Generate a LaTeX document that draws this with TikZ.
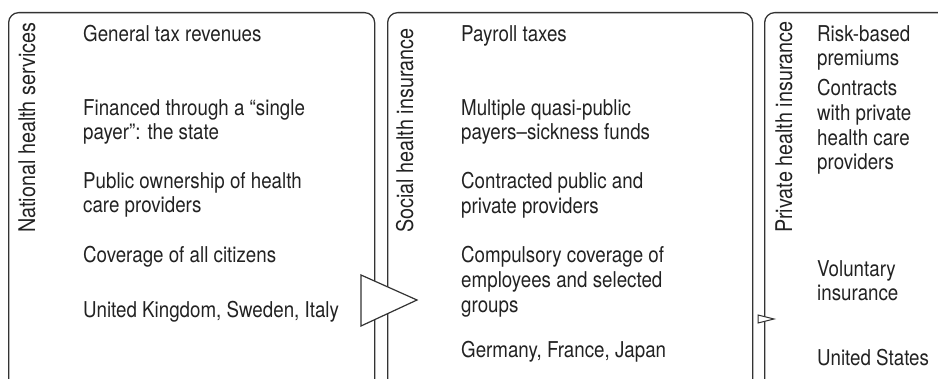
\documentclass[tikz,border=0pt]{standalone}
\usepackage{fontspec}
\setmainfont{TeX Gyre Heros}[FakeStretch=0.86]
\definecolor{ink}{HTML}{222222}
\definecolor{edge}{HTML}{333333}
\tikzset{
  panel/.style={draw=edge, line width=1.3pt, rounded corners=10pt, anchor=north west, inner sep=0pt},
  txt/.style={anchor=north west, inner sep=0pt, align=left, text=ink, font=\fontsize{21.8}{24.8}\selectfont},
  lbl/.style={anchor=base west, inner sep=0pt, rotate=90, text=ink, font=\fontsize{23}{26}\selectfont},
  flowtri/.style={draw=edge, line width=1.2pt, fill=white, line join=miter}
}
\begin{document}
\begin{tikzpicture}[x=1pt, y=-1pt]
\useasboundingbox (0,0) rectangle (938,379);
\clip (0,0) rectangle (938,379);
% panels
\node[panel, minimum width=366pt, minimum height=390pt] (nhs) at (8,12) {};
\node[panel, minimum width=365pt, minimum height=390pt] (shi) at (387,12) {};
\node[panel, minimum width=260pt, minimum height=390pt] (phi) at (764,12) {};
% vertical labels
\node[lbl] (lnhs) at (35,233) {National health services};
\node[lbl] (lshi) at (413,233) {Social health insurance};
\node[lbl] (lphi) at (792,233) {Private health insurance};
% panel 1 text
\node[txt] (a1) at (83,25) {General tax revenues};
\node[txt] (a2) at (83,99) {Financed through a “single\\payer”: the state};
\node[txt] (a3) at (83,172) {Public ownership of health\\care providers};
\node[txt] (a4) at (83,246) {Coverage of all citizens};
\node[txt] (a5) at (83,301) {United Kingdom, Sweden, Italy};
% panel 2 text
\node[txt] (b1) at (461,25) {Payroll taxes};
\node[txt] (b2) at (461,99) {Multiple quasi-public\\payers–sickness funds};
\node[txt] (b3) at (461,172) {Contracted public and\\private providers};
\node[txt] (b4) at (461,246) {Compulsory coverage of\\employees and selected\\groups};
\node[txt] (b5) at (461,341) {Germany, France, Japan};
% panel 3 text
\node[txt] (c1) at (817,25) {Risk-based\\premiums};
\node[txt] (c2) at (817,79) {Contracts\\with private\\health care\\providers};
\node[txt] (c3) at (817,260) {Voluntary\\insurance};
\node[txt] (c4) at (817,349) {United States};
% transition arrows
\coordinate (t1a) at (361,275);
\coordinate (t1b) at (361,326);
\coordinate (t1c) at (417,300);
\draw[flowtri] (t1a) -- (t1c) -- (t1b) -- cycle;
\coordinate (t2a) at (758,315);
\coordinate (t2b) at (758,323);
\coordinate (t2c) at (774,319);
\draw[flowtri, line width=1pt] (t2a) -- (t2c) -- (t2b) -- cycle;
\end{tikzpicture}
\end{document}
